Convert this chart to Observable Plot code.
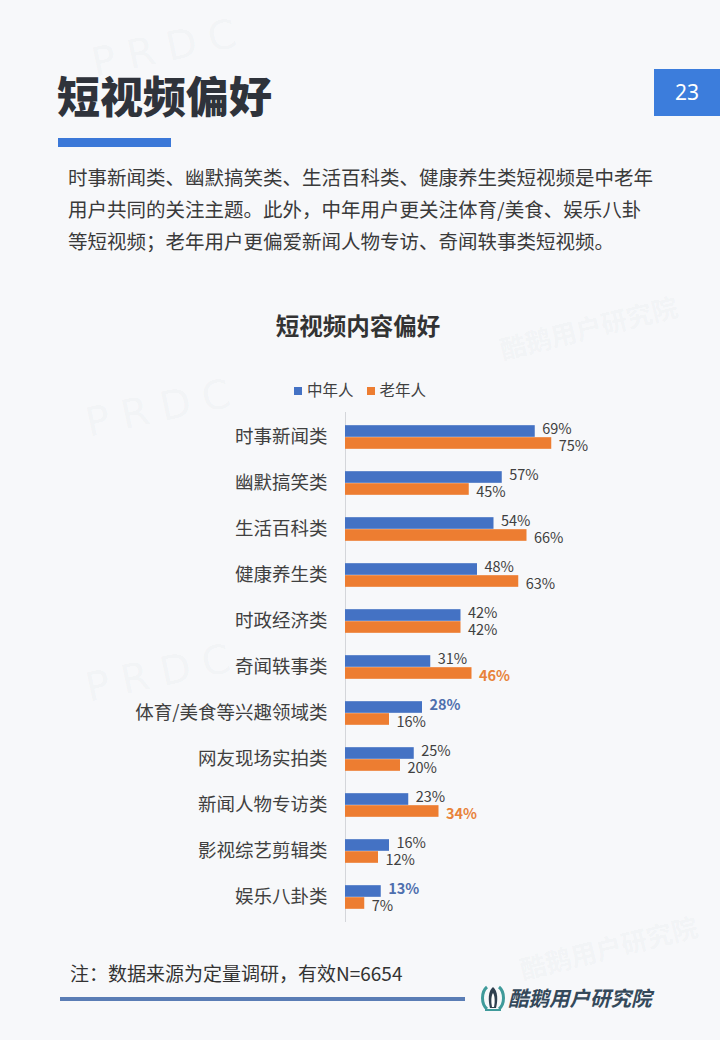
<!DOCTYPE html>
<html><head><meta charset="utf-8">
<script src="https://cdn.jsdelivr.net/npm/d3@7"></script>
<script src="https://cdn.jsdelivr.net/npm/@observablehq/plot@0.6"></script>
<style>
body{margin:0;background:#f7f8fa;}
#page{position:relative;width:720px;height:1040px;overflow:hidden;background:#f7f8fa;font-family:"Noto Sans CJK SC","Noto Sans",sans-serif;color:#3a3a3a;}
.abs{position:absolute;white-space:nowrap;}
.wm{position:absolute;white-space:nowrap;color:rgba(110,120,140,0.05);font-weight:bold;transform-origin:left center;}
</style></head>
<body><div id="page">
<div class="wm" style="left:92px;top:40px;font-size:40px;letter-spacing:12px;transform:rotate(-12deg);font-family:'DejaVu Sans';font-weight:normal;">PRDC</div>
<div class="wm" style="left:500px;top:330px;font-size:26px;transform:rotate(-14deg);">酷鹅用户研究院</div>
<div class="wm" style="left:86px;top:400px;font-size:40px;letter-spacing:12px;transform:rotate(-12deg);font-family:'DejaVu Sans';font-weight:normal;">PRDC</div>
<div class="wm" style="left:86px;top:665px;font-size:40px;letter-spacing:12px;transform:rotate(-12deg);font-family:'DejaVu Sans';font-weight:normal;">PRDC</div>
<div class="wm" style="left:520px;top:950px;font-size:26px;transform:rotate(-14deg);">酷鹅用户研究院</div>

<div class="abs" style="left:57px;top:70px;font-size:43px;line-height:48px;font-weight:900;color:#2f333b;">短视频偏好</div>
<div class="abs" style="left:58px;top:138px;width:113px;height:9px;background:#3b78d8;"></div>
<div class="abs" style="left:654px;top:69px;width:66px;height:47px;background:#3c7ddc;color:#fff;font-size:21px;line-height:47px;text-align:center;font-family:'Noto Sans','Noto Sans CJK SC',sans-serif;">23</div>
<div class="abs" style="left:68px;top:161px;font-size:19.5px;line-height:32px;color:#3a3a3a;">时事新闻类、幽默搞笑类、生活百科类、健康养生类短视频是中老年<br>用户共同的关注主题。此外，中年用户更关注体育/美食、娱乐八卦<br>等短视频；老年用户更偏爱新闻人物专访、奇闻轶事类短视频。</div>
<div class="abs" style="left:0;width:716px;top:309px;text-align:center;font-size:23.5px;line-height:32px;font-weight:bold;color:#333;">短视频内容偏好</div>
<div id="legend" class="abs" style="left:294px;top:377px;font-size:15.5px;line-height:24px;color:#404040;"></div>
<div id="chart" class="abs" style="left:0;top:400px;"></div>
<div class="abs" style="left:70px;top:960px;font-size:19px;line-height:26px;color:#333;">注：数据来源为定量调研，有效N=6654</div>
<div class="abs" style="left:60px;top:997px;width:405px;height:4px;background:#5a7db5;"></div>
<svg class="abs" style="left:479px;top:984px;" width="28" height="28" viewBox="0 0 28 28">
<path d="M8 3 C2 8 2 20 8 25" stroke="#3f9a9a" stroke-width="3" fill="none"/>
<path d="M20 3 C26 8 26 20 20 25" stroke="#3f9a9a" stroke-width="3" fill="none"/>
<path d="M14 3 C9 7 9 16 11 24 L17 24 C19 16 19 7 14 3 Z" fill="#2f3f4f"/>
<path d="M14 9 C12 12 12 18 13 23 L15 23 C16 18 16 12 14 9 Z" fill="#ffffff"/>
<rect x="6" y="25" width="16" height="2" fill="#3f9a9a"/>
</svg>
<div class="abs" style="left:508px;top:984px;font-size:20.5px;line-height:26px;font-weight:bold;font-style:italic;color:#34495a;">酷鹅用户研究院</div>
</div>
<script>
const categories = ["时事新闻类","幽默搞笑类","生活百科类","健康养生类","时政经济类","奇闻轶事类","体育/美食等兴趣领域类","网友现场实拍类","新闻人物专访类","影视综艺剪辑类","娱乐八卦类"];
const middleAged = [69,57,54,48,42,31,28,25,23,16,13];
const elderly = [75,45,66,63,42,46,16,20,34,12,7];
const seriesNames = ["中年人","老年人"];
const seriesColors = ["#4472c4","#ed7d31"];
const highlightMiddle = ["体育/美食等兴趣领域类","娱乐八卦类"];
const highlightElderly = ["奇闻轶事类","新闻人物专访类"];

const midRows = categories.map((c,i)=>({cat:c, series:seriesNames[0], value:middleAged[i], hi:highlightMiddle.includes(c)}));
const oldRows = categories.map((c,i)=>({cat:c, series:seriesNames[1], value:elderly[i], hi:highlightElderly.includes(c)}));

const H = 532, MT = 12, MB = 10;
const band = (H - MT - MB) / categories.length;
const barH = 12;
const half = band / 2;
const pct = d => d.value + "%";
const labelFont = 14.5;
const upDy = -8.5, downDy = 9;

const chart = Plot.plot({
  width: 720, height: H,
  marginLeft: 345, marginRight: 100, marginTop: MT, marginBottom: MB,
  style: {background: "transparent", fontFamily: "'Noto Sans CJK SC','Noto Sans',sans-serif", fontSize: "18.5px", color: "#404040"},
  x: {domain: [0, 100], axis: null},
  y: {domain: categories, padding: 0, label: null, tickSize: 0, tickPadding: 18},
  marks: [
    Plot.ruleX([0], {stroke: "#d4d6da", strokeWidth: 1}),
    Plot.barX(midRows, {y: "cat", x: "value", fill: seriesColors[0], insetTop: half - barH, insetBottom: half}),
    Plot.barX(oldRows, {y: "cat", x: "value", fill: seriesColors[1], insetTop: half, insetBottom: half - barH}),
    Plot.text(midRows.filter(d => !d.hi), {y: "cat", x: "value", text: pct, dx: 7, dy: upDy, textAnchor: "start", fontSize: labelFont, fill: "#404040"}),
    Plot.text(midRows.filter(d => d.hi), {y: "cat", x: "value", text: pct, dx: 7, dy: upDy, textAnchor: "start", fontSize: labelFont, fill: "#4e6fae", fontWeight: "bold"}),
    Plot.text(oldRows.filter(d => !d.hi), {y: "cat", x: "value", text: pct, dx: 7, dy: downDy, textAnchor: "start", fontSize: labelFont, fill: "#404040"}),
    Plot.text(oldRows.filter(d => d.hi), {y: "cat", x: "value", text: pct, dx: 7, dy: downDy, textAnchor: "start", fontSize: labelFont, fill: "#e8833a", fontWeight: "bold"})
  ]
});
document.getElementById("chart").appendChild(chart);

const legend = document.getElementById("legend");
legend.innerHTML = seriesNames.map((s,i)=>
  `<span style="display:inline-block;width:8px;height:8px;background:${seriesColors[i]};margin-right:5px;vertical-align:1px;"></span><span style="margin-right:13px;">${s}</span>`
).join("");
</script>
</body></html>
